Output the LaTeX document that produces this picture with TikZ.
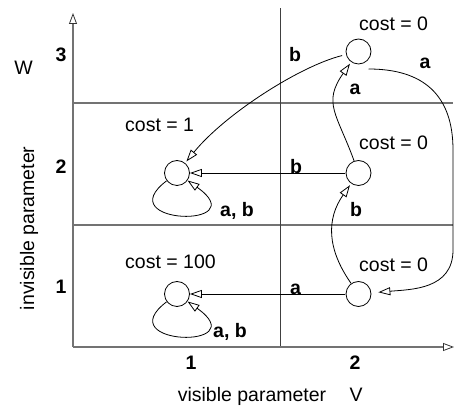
\documentclass[tikz,border=0pt]{standalone}
\usepackage{fontspec}
\setmainfont{Liberation Sans}
\usetikzlibrary{arrows.meta}

\begin{document}
\begin{tikzpicture}[x=1pt,y=1pt,
  state/.style={circle, draw, line width=0.8pt, minimum size=25pt, inner sep=0pt},
  gridline/.style={draw=black!55, line width=1.6pt},
  axis/.style={gridline, -{Triangle[open, length=11pt, width=8pt, line width=0.8pt, color=black!80]}},
  trans/.style={draw, line width=0.8pt, -{Triangle[open, length=12pt, width=8pt, line width=0.8pt]}},
  lab/.style={font=\fontsize{19.5}{22}\selectfont\bfseries, inner sep=0pt, anchor=base},
  txt/.style={font=\fontsize{19.5}{22}\selectfont, inner sep=0pt, anchor=base},
]
\useasboundingbox (0,0) rectangle (455,409);

% axes and grid
\draw[gridline] (73,306) -- (453,306);
\draw[gridline] (73,184) -- (453,184);
\draw[draw=black!75, line width=1pt] (280,62) -- (280,401);
\draw[axis] (73,62) -- (73,396);
\draw[axis] (73,62) -- (454,62);

% axis labels
\node[lab] (w3) at (61,347.3) {3};
\node[lab] (w2) at (61,235.7) {2};
\node[lab] (w1) at (61,115) {1};
\node[lab] (v1) at (191,39) {1};
\node[lab] (v2) at (355,39) {2};
\node[txt] (wname) at (23.5,334) {W};
\node[txt] (vname) at (356,7.3) {V};
\node[txt] (vlabel) at (252,7.3) {visible parameter};
\node[txt, rotate=90] (wlabel) at (34,180.7) {invisible parameter};

% states
\node[state] (n3)  at (358.5,357.5) {};
\node[state] (n2r) at (358.5,236) {};
\node[state] (n1r) at (358.5,115) {};
\node[state] (n2l) at (177,236) {};
\node[state] (n1l) at (177,115) {};

% costs
\node[txt, anchor=base west] (c3)  at (359,378.3) {cost = 0};
\node[txt, anchor=base west] (c2r) at (359,259) {cost = 0};
\node[txt, anchor=base west] (c1r) at (359,137.3) {cost = 0};
\node[txt, anchor=base west] (c2l) at (125,277.3) {cost = 1};
\node[txt, anchor=base west] (c1l) at (125,140.7) {cost = 100};

% transitions
\draw[trans, shorten <=4pt, shorten >=2pt] (n3) .. controls (300,343) and (225,295) .. (n2l);
\draw[trans, shorten <=1pt] (n2r) -- (n2l);
\draw[trans, shorten <=1pt] (n1r) -- (n1l);
\draw[trans] (n2l) .. controls (108,184) and (256,180) .. (n2l);
\draw[trans] (n1l) .. controls (108,63) and (256,59) .. (n1l);
\draw[trans, shorten >=2pt] (n2r) to[out=110, in=235, looseness=1.3] (n3);
\draw[trans, shorten >=2pt] (n1r) to[out=125, in=235, looseness=1.1] (n2r);
\coordinate (rt1) at (453,259);
\coordinate (rt2) at (453,159);
\draw[trans, shorten >=7pt] ([shift={(10,-17.5)}]n3.center) to[out=0, in=90, looseness=1.2] (rt1)
  -- (rt2) to[out=-90, in=5, looseness=1.1] (n1r);

% transition labels
\node[lab] (l1) at (295,347.3) {b};
\node[lab] (l2) at (425,340.7) {a};
\node[lab] (l3) at (355,314.7) {a};
\node[lab] (l4) at (296,235.7) {b};
\node[lab] (l5) at (356,192.3) {b};
\node[lab] (l6) at (295.5,114.7) {a};
\node[lab] (l7) at (237,192.3) {a, b};
\node[lab] (l8) at (230,71.5) {a, b};
\end{tikzpicture}
\end{document}
